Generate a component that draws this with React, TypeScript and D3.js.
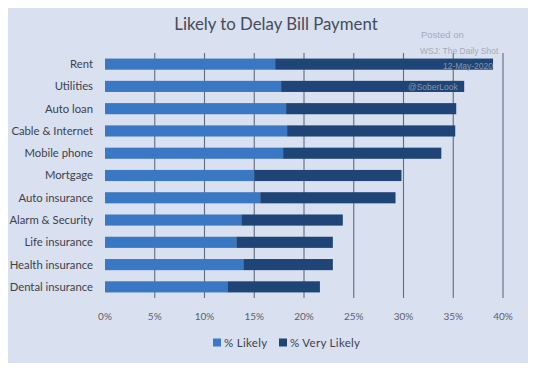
import React, { useEffect, useRef } from 'react';
import * as d3 from 'd3';

const categories = [
  'Rent', 'Utilities', 'Auto loan', 'Cable & Internet', 'Mobile phone', 'Mortgage',
  'Auto insurance', 'Alarm & Security', 'Life insurance', 'Health insurance', 'Dental insurance',
];
const likely = [17.1, 17.7, 18.2, 18.3, 17.9, 15.0, 15.6, 13.7, 13.2, 13.9, 12.3];
const veryLikely = [21.9, 18.4, 17.1, 16.9, 15.9, 14.8, 13.6, 10.2, 9.7, 9.0, 9.3];
const seriesNames = ['% Likely', '% Very Likely'];
const xTicks = [0, 5, 10, 15, 20, 25, 30, 35, 40];
const watermark = ['Posted on', 'WSJ: The Daily Shot', '12-May-2020', '@SoberLook'];

const colors = ['#3b78c4', '#1f4577'];
const font = 'Lato, sans-serif';

const App: React.FC = () => {
  const svgRef = useRef<SVGSVGElement>(null);

  useEffect(() => {
    if (!svgRef.current) return;
    const width = 536;
    const height = 371;
    const svg = d3.select(svgRef.current);
    svg.selectAll('*').remove();

    // background with a lighter frame
    svg.append('rect').attr('width', width).attr('height', height).attr('fill', '#e3e8f3');
    svg.append('rect').attr('x', 2).attr('y', 2).attr('width', width - 4).attr('height', height - 6).attr('fill', '#d9e0f0');

    const margin = { top: 53, right: 32, bottom: 73, left: 105 };
    const innerW = width - margin.left - margin.right;
    const innerH = height - margin.top - margin.bottom;

    const x = d3.scaleLinear().domain([0, 40]).range([0, innerW - 1]);
    const y = d3.scaleBand().domain(categories).range([0, innerH]).paddingInner(0.5).paddingOuter(0.25);

    const g = svg.append('g').attr('transform', `translate(${margin.left},${margin.top})`);

    // title
    svg.append('text')
      .attr('x', 276)
      .attr('y', 30)
      .attr('text-anchor', 'middle')
      .attr('font-family', font)
      .attr('font-size', 16.8)
      .attr('fill', '#454c58')
      .text('Likely to Delay Bill Payment');

    // vertical gridlines
    xTicks.filter(t => t > 0).forEach(t => {
      g.append('line')
        .attr('x1', x(t)).attr('x2', x(t))
        .attr('y1', 0).attr('y2', innerH)
        .attr('stroke', '#5f6d82')
        .attr('stroke-width', 1.1);
    });

    // stacked bars
    categories.forEach((c, i) => {
      const by = y(c) || 0;
      g.append('rect')
        .attr('x', x(0)).attr('y', by)
        .attr('width', x(likely[i]) - x(0)).attr('height', y.bandwidth())
        .attr('fill', colors[0]);
      g.append('rect')
        .attr('x', x(likely[i])).attr('y', by)
        .attr('width', x(likely[i] + veryLikely[i]) - x(likely[i])).attr('height', y.bandwidth())
        .attr('fill', colors[1]);
      g.append('text')
        .attr('x', -12)
        .attr('y', by + y.bandwidth() / 2)
        .attr('dy', '0.35em')
        .attr('text-anchor', 'end')
        .attr('font-family', font)
        .attr('font-size', 11.3)
        .attr('fill', '#3c424c')
        .text(c);
    });

    // x tick labels
    xTicks.forEach(t => {
      g.append('text')
        .attr('x', x(t))
        .attr('y', innerH + 22)
        .attr('text-anchor', 'middle')
        .attr('font-family', font)
        .attr('font-size', 10)
        .attr('fill', '#5a5f68')
        .text(`${t}%`);
    });

    // legend
    const legend = svg.append('g').attr('transform', 'translate(213,343)');
    const legendX = [0, 66];
    seriesNames.forEach((s, i) => {
      legend.append('rect')
        .attr('x', legendX[i]).attr('y', -4.5)
        .attr('width', 8).attr('height', 8)
        .attr('fill', colors[i]);
      legend.append('text')
        .attr('x', legendX[i] + 11)
        .attr('y', 0)
        .attr('dy', '0.35em')
        .attr('font-family', font)
        .attr('font-size', 11.5)
        .attr('letter-spacing', 0.3)
        .attr('fill', '#3c424c')
        .text(s);
    });

    // watermark
    const wm = svg.append('g')
      .attr('font-family', 'Liberation Sans, Arial, sans-serif')
      .attr('fill', '#9aa3b2')
      .attr('opacity', 0.85);
    wm.append('text').attr('x', 421).attr('y', 38).attr('font-size', 9.5).text(watermark[0]);
    wm.append('text').attr('x', 420).attr('y', 54).attr('font-size', 8.5).text(watermark[1]);
    wm.append('text').attr('x', 493).attr('y', 69).attr('text-anchor', 'end').attr('font-size', 8.5).text(watermark[2]);
    wm.append('text').attr('x', 408).attr('y', 90).attr('font-size', 8.5).text(watermark[3]);
  }, []);

  return (
    <div style={{ margin: -8 }}>
      <svg ref={svgRef} width={536} height={371} style={{ display: 'block' }} />
    </div>
  );
};

export default App;
